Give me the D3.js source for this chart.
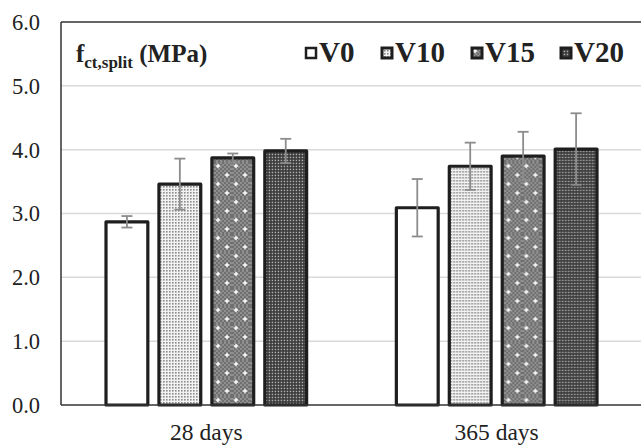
<!DOCTYPE html>
<html>
<head>
<meta charset="utf-8">
<script src="https://cdn.jsdelivr.net/npm/d3@7"></script>
<style>
  body { margin: 0; background: #fff; }
  svg text { font-family: "Liberation Serif", "Times New Roman", serif; fill: #222; }
</style>
</head>
<body>
<div id="chart"></div>
<script>
let categories = ['28 days', '365 days'];
let series = ['V0', 'V10', 'V15', 'V20'];
let means = [
    [2.87, 3.46, 3.87, 3.98],
    [3.09, 3.74, 3.90, 4.01]
];
let errors = [
    [0.09, 0.40, 0.07, 0.19],
    [0.45, 0.37, 0.38, 0.56]
];
let yTicks = [0, 1, 2, 3, 4, 5, 6];

let width = 641,
    height = 445,
    margin = {left: 61, top: 22, right: -1, bottom: 40},
    plotRight = width - margin.right,
    plotBottom = height - margin.bottom;

let svg = d3.select('#chart').append('svg')
    .attr('width', width)
    .attr('height', height);

// fill patterns for the four mixes
let defs = svg.append('defs');

let p10 = defs.append('pattern').attr('id', 'pat-V10')
    .attr('width', 3).attr('height', 3).attr('patternUnits', 'userSpaceOnUse');
p10.append('rect').attr('width', 3).attr('height', 3).attr('fill', '#f2f2f2');
p10.append('rect').attr('width', 1.6).attr('height', 1.6).attr('fill', '#8c8c8c');

let p15 = defs.append('pattern').attr('id', 'pat-V15')
    .attr('width', 18).attr('height', 18).attr('patternUnits', 'userSpaceOnUse');
p15.append('rect').attr('width', 18).attr('height', 18).attr('fill', '#8f8f8f');
for (let i = 0; i < 9; i++) {
    for (let j = 0; j < 9; j++) {
        if ((i + j) % 2 === 0) {
            p15.append('rect').attr('x', i * 2).attr('y', j * 2)
                .attr('width', 2).attr('height', 2).attr('fill', '#707070');
        }
    }
}
[[4, 4], [13, 13]].forEach(([cx, cy]) => {
    p15.append('rect').attr('x', cx - 2.2).attr('y', cy - 0.7).attr('width', 4.4).attr('height', 1.4).attr('fill', '#fff');
    p15.append('rect').attr('x', cx - 0.7).attr('y', cy - 2.2).attr('width', 1.4).attr('height', 4.4).attr('fill', '#fff');
});

let p20 = defs.append('pattern').attr('id', 'pat-V20')
    .attr('width', 3).attr('height', 3).attr('patternUnits', 'userSpaceOnUse');
p20.append('rect').attr('width', 3).attr('height', 3).attr('fill', '#383838');
p20.append('rect').attr('x', 0.7).attr('y', 0.7).attr('width', 1.5).attr('height', 1.5).attr('fill', '#b0b0b0');

let fills = {V0: '#fff', V10: 'url(#pat-V10)', V15: 'url(#pat-V15)', V20: 'url(#pat-V20)'};

let xScale = d3.scaleBand()
    .domain(categories)
    .range([margin.left, plotRight])
    .paddingInner(0.309)
    .paddingOuter(0.155);

let xSub = d3.scaleBand()
    .domain(series)
    .range([0, xScale.bandwidth()])
    .paddingInner(0.21);

let yScale = d3.scaleLinear()
    .domain([0, 6])
    .range([plotBottom, margin.top]);

// grid
svg.append('g')
    .selectAll('line')
    .data(yTicks.filter(d => d > 0 && d < 6))
    .join('line')
    .attr('x1', margin.left).attr('x2', plotRight)
    .attr('y1', d => yScale(d)).attr('y2', d => yScale(d))
    .attr('stroke', '#d9d9d9')
    .attr('stroke-width', 1.5);

// frame: top and left
svg.append('line')
    .attr('x1', margin.left).attr('x2', plotRight)
    .attr('y1', yScale(6)).attr('y2', yScale(6))
    .attr('stroke', '#333').attr('stroke-width', 1.5);
svg.append('line')
    .attr('x1', margin.left).attr('x2', margin.left)
    .attr('y1', yScale(6)).attr('y2', yScale(0))
    .attr('stroke', '#333').attr('stroke-width', 1.5);

// y tick labels
svg.append('g')
    .selectAll('text')
    .data(yTicks)
    .join('text')
    .attr('x', 40)
    .attr('y', d => yScale(d))
    .attr('dy', '0.35em')
    .attr('text-anchor', 'end')
    .style('font-size', '22.5px')
    .text(d => d3.format('.1f')(d));

// bars
let groups = svg.append('g')
    .selectAll('g')
    .data(categories)
    .join('g')
    .attr('transform', d => `translate(${xScale(d)}, 0)`);

groups.selectAll('rect')
    .data((d, i) => series.map((s, j) => ({s, v: means[i][j], e: errors[i][j]})))
    .join('rect')
    .attr('x', d => xSub(d.s))
    .attr('y', d => yScale(d.v))
    .attr('width', xSub.bandwidth())
    .attr('height', d => yScale(0) - yScale(d.v))
    .attr('fill', d => fills[d.s])
    .attr('stroke', '#1e1e1e')
    .attr('stroke-width', 3.2)
    .attr('stroke-linejoin', 'round');

// error bars
let capHalf = 5.5;
groups.selectAll('g.err')
    .data((d, i) => series.map((s, j) => ({s, v: means[i][j], e: errors[i][j]})))
    .join('g')
    .attr('class', 'err')
    .each(function (d) {
        let g = d3.select(this),
            cx = xSub(d.s) + xSub.bandwidth() / 2,
            yTop = yScale(d.v + d.e),
            yBot = yScale(d.v - d.e);
        g.append('line').attr('x1', cx).attr('x2', cx).attr('y1', yTop).attr('y2', yBot);
        g.append('line').attr('x1', cx - capHalf).attr('x2', cx + capHalf).attr('y1', yTop).attr('y2', yTop);
        g.append('line').attr('x1', cx - capHalf).attr('x2', cx + capHalf).attr('y1', yBot).attr('y2', yBot);
        g.selectAll('line').attr('stroke', '#8c8c8c').attr('stroke-width', 1.8);
    });

// x axis line
svg.append('line')
    .attr('x1', margin.left).attr('x2', plotRight)
    .attr('y1', yScale(0)).attr('y2', yScale(0))
    .attr('stroke', '#333').attr('stroke-width', 1.5);

// category labels
svg.append('g')
    .selectAll('text')
    .data(categories)
    .join('text')
    .attr('x', d => xScale(d) + xScale.bandwidth() / 2)
    .attr('y', 440)
    .attr('text-anchor', 'middle')
    .style('font-size', '23.5px')
    .text(d => d);

// title inside plot
let title = svg.append('text')
    .attr('x', 76)
    .attr('y', 62)
    .style('font-weight', 'bold')
    .style('font-size', '25px');
title.append('tspan').text('f');
title.append('tspan').attr('dy', 6).style('font-size', '17px').text('ct,split');
title.append('tspan').attr('dy', -6).text(' (MPa)');

// legend
let legendX = [305, 381, 471, 560];
let legend = svg.append('g')
    .selectAll('g')
    .data(series)
    .join('g')
    .attr('transform', (d, i) => `translate(${legendX[i]}, 47)`);

legend.append('rect')
    .attr('x', 1).attr('y', 1)
    .attr('width', 10).attr('height', 10)
    .attr('fill', d => fills[d])
    .attr('stroke', '#1e1e1e')
    .attr('stroke-width', d => d === 'V0' ? 2.5 : 3);

legend.append('text')
    .attr('x', 14)
    .attr('y', 14.5)
    .style('font-weight', 'bold')
    .style('font-size', '29px')
    .text(d => d);
</script>
</body>
</html>
